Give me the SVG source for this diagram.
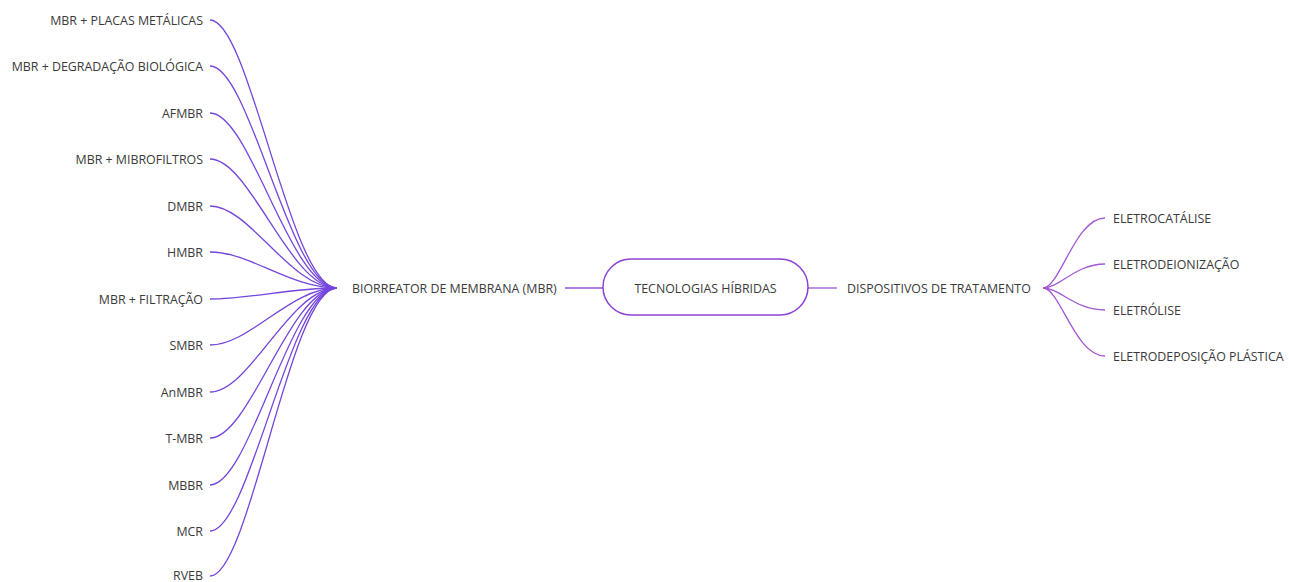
<svg xmlns="http://www.w3.org/2000/svg" width="1289" height="582" viewBox="0 0 1289 582">
<style>
text{font-family:"Open Sans","Noto Sans","Liberation Sans",sans-serif;font-size:12.4px;fill:#3a3a3a;dominant-baseline:central}
.l{text-anchor:end}
.c{text-anchor:middle}
.lc{fill:none;stroke:#7446dc;stroke-width:1.3}
.rc{fill:none;stroke:#a158d6;stroke-width:1.3}
.st{fill:none;stroke:#9a55d4;stroke-width:1.3}
.box{fill:#fff;stroke:#8c42d4;stroke-width:1.5}
</style>
<rect width="1289" height="582" fill="#fff"/>
<g id="connectors">
<path class="lc" d="M210,20 C250,20 290,288 337,288"/>
<path class="lc" d="M210,66 C250,66 290,288 337,288"/>
<path class="lc" d="M210,113 C250,113 290,288 337,288"/>
<path class="lc" d="M210,159 C250,159 290,288 337,288"/>
<path class="lc" d="M210,206 C250,206 290,288 337,288"/>
<path class="lc" d="M210,252 C250,252 290,288 337,288"/>
<path class="lc" d="M210,299 C250,299 290,288 337,288"/>
<path class="lc" d="M210,345 C250,345 290,288 337,288"/>
<path class="lc" d="M210,392 C250,392 290,288 337,288"/>
<path class="lc" d="M210,438 C250,438 290,288 337,288"/>
<path class="lc" d="M210,485 C250,485 290,288 337,288"/>
<path class="lc" d="M210,531 C250,531 290,288 337,288"/>
<path class="lc" d="M210,576 C250,576 290,288 337,288"/>
<path class="st" d="M565,288 H603"/>
<path class="st" d="M808,288 H837"/>
<path class="rc" d="M1043,288 C1060,288 1075,218 1105,218"/>
<path class="rc" d="M1043,288 C1060,288 1075,264 1105,264"/>
<path class="rc" d="M1043,288 C1060,288 1075,310 1105,310"/>
<path class="rc" d="M1043,288 C1060,288 1075,356 1105,356"/>
</g>
<g id="n1"><text class="l" x="203" y="20">MBR + PLACAS METÁLICAS</text></g>
<g id="n2"><text class="l" x="203" y="66">MBR + DEGRADAÇÃO BIOLÓGICA</text></g>
<g id="n3"><text class="l" x="203" y="113">AFMBR</text></g>
<g id="n4"><text class="l" x="203" y="159">MBR + MIBROFILTROS</text></g>
<g id="n5"><text class="l" x="203" y="206">DMBR</text></g>
<g id="n6"><text class="l" x="203" y="252">HMBR</text></g>
<g id="n7"><text class="l" x="203" y="299">MBR + FILTRAÇÃO</text></g>
<g id="n8"><text class="l" x="203" y="345">SMBR</text></g>
<g id="n9"><text class="l" x="203" y="392">AnMBR</text></g>
<g id="n10"><text class="l" x="203" y="438">T-MBR</text></g>
<g id="n11"><text class="l" x="203" y="485">MBBR</text></g>
<g id="n12"><text class="l" x="203" y="531">MCR</text></g>
<g id="n13"><text class="l" x="203" y="575">RVEB</text></g>
<g id="mbr"><text x="352" y="288">BIORREATOR DE MEMBRANA (MBR)</text></g>
<g id="root"><rect class="box" x="603" y="259" width="205" height="56" rx="28"/><text class="c" x="705.5" y="288">TECNOLOGIAS HÍBRIDAS</text></g>
<g id="disp"><text x="847" y="288">DISPOSITIVOS DE TRATAMENTO</text></g>
<g id="r1"><text x="1113" y="218">ELETROCATÁLISE</text></g>
<g id="r2"><text x="1113" y="264">ELETRODEIONIZAÇÃO</text></g>
<g id="r3"><text x="1113" y="310">ELETRÓLISE</text></g>
<g id="r4"><text x="1113" y="356">ELETRODEPOSIÇÃO PLÁSTICA</text></g>
</svg>
